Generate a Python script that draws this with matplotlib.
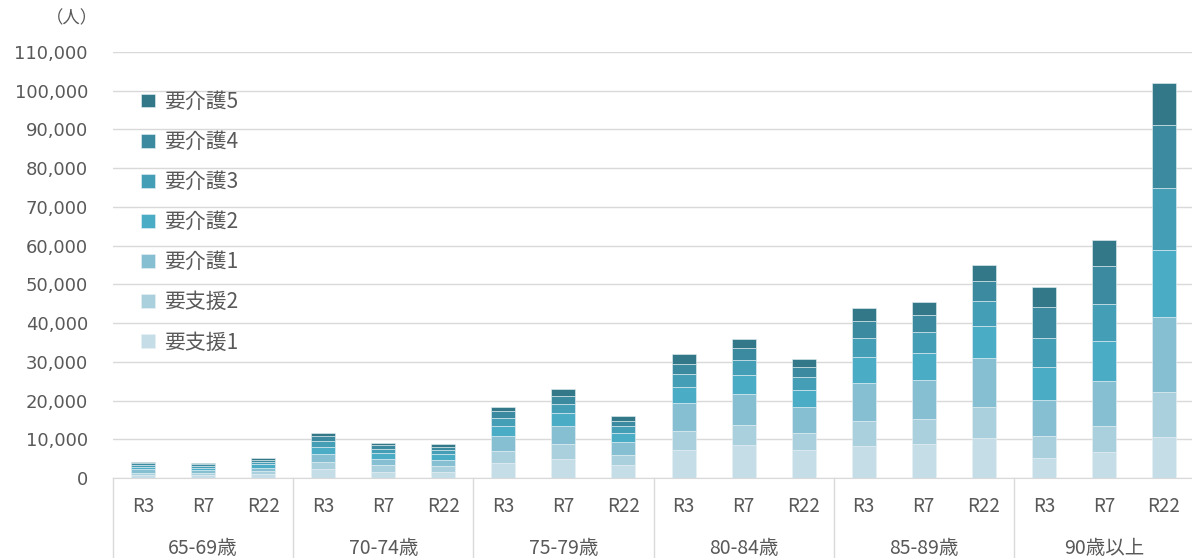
import matplotlib.pyplot as plt
from matplotlib.transforms import blended_transform_factory
from matplotlib.ticker import FuncFormatter

plt.rcParams['font.family'] = ['Noto Sans CJK JP', 'DejaVu Sans']

groups = ['65-69歳', '70-74歳', '75-79歳', '80-84歳', '85-89歳', '90歳以上']
years = ['R3', 'R7', 'R22']
series = ['要支援1', '要支援2', '要介護1', '要介護2', '要介護3', '要介護4', '要介護5']
colors = ['#c5dde6', '#aacfdd', '#86bfd1', '#4bacc6', '#449eb6', '#3b8aa0', '#327889']

# 人数（各グループ R3, R7, R22 の順）
shien1 = [800, 700, 1000, 2300, 1600, 1500, 4000, 4900, 3400,
          7200, 8400, 7200, 8300, 8700, 10400, 5200, 6600, 10700]
shien2 = [600, 600, 700, 1900, 1800, 1500, 3000, 3800, 2600,
          4900, 5300, 4400, 6500, 6500, 7900, 5600, 6800, 11500]
kaigo1 = [800, 700, 1000, 2100, 1500, 1600, 3800, 4600, 3300,
          7200, 7900, 6700, 9700, 10200, 12700, 9300, 11600, 19300]
kaigo2 = [600, 600, 800, 1700, 1600, 1500, 2500, 3500, 2400,
          4300, 5000, 4400, 6800, 7000, 8200, 8600, 10400, 17400]
kaigo3 = [500, 500, 600, 1600, 1100, 1100, 2100, 2400, 1700,
          3300, 3800, 3300, 4900, 5300, 6500, 7500, 9600, 16100]
kaigo4 = [500, 500, 600, 1200, 900, 900, 1900, 2100, 1400,
          2500, 3200, 2600, 4400, 4400, 5200, 8000, 9700, 16100]
kaigo5 = [400, 300, 400, 800, 600, 600, 1000, 1800, 1200,
          2500, 2400, 2000, 3200, 3300, 4100, 5200, 6700, 11000]
values = [shien1, shien2, kaigo1, kaigo2, kaigo3, kaigo4, kaigo5]

W, H = 1192, 558
fig = plt.figure(figsize=(W / 100, H / 100), dpi=100)
ax = fig.add_axes([113 / W, 80 / H, 1081 / W, 426 / H])

x = list(range(len(groups) * len(years)))
bottom = [0] * len(x)
handles = []
for name, vals, c in zip(series, values, colors):
    b = ax.bar(x, vals, 0.4, bottom=bottom, color=c, label=name,
               edgecolor='#e8f1f4', linewidth=0.4, zorder=3)
    handles.append(b)
    bottom = [p + q for p, q in zip(bottom, vals)]

ax.set_xlim(-0.5, len(x) - 0.5)
ax.set_ylim(0, 110000)
ax.set_yticks(range(0, 110001, 10000))
ax.yaxis.set_major_formatter(FuncFormatter(lambda v, p: f'{int(v):,}'))
ax.grid(axis='y', color='#d9d9d9', linewidth=1, zorder=0)
for s in ['top', 'right', 'left']:
    ax.spines[s].set_visible(False)
ax.spines['bottom'].set_color('#d9d9d9')
ax.tick_params(axis='y', length=0, pad=18, labelsize=13, labelcolor='#595959')
for t in ax.get_yticklabels():
    t.set_family('DejaVu Sans')
ax.tick_params(axis='x', length=0, pad=13, labelsize=13.5, labelcolor='#595959')
ax.set_xticks(x)
ax.set_xticklabels(years * len(groups))

tr = blended_transform_factory(ax.transData, ax.transAxes)
for i in range(len(groups) + 1):
    xs = i * 3 - 0.5
    ax.plot([xs, xs], [0, -80 / 426], transform=tr, color='#d9d9d9',
            linewidth=1, clip_on=False)
for i, g in enumerate(groups):
    ax.text(i * 3 + 1, -70 / 426, g, transform=tr, ha='center', va='center',
            fontsize=14, color='#595959')

fig.text(72 / W, 1 - 18 / H, '（人）', ha='center', va='center',
         fontsize=12.5, color='#595959')

leg = ax.legend(handles[::-1], series[::-1], loc='upper left',
                bbox_to_anchor=(0.009, 0.953), frameon=False,
                fontsize=15, labelcolor='#595959', handlelength=0.65,
                handleheight=0.65, handletextpad=0.45, labelspacing=0.87)

fig.savefig('out.png', dpi=100)
